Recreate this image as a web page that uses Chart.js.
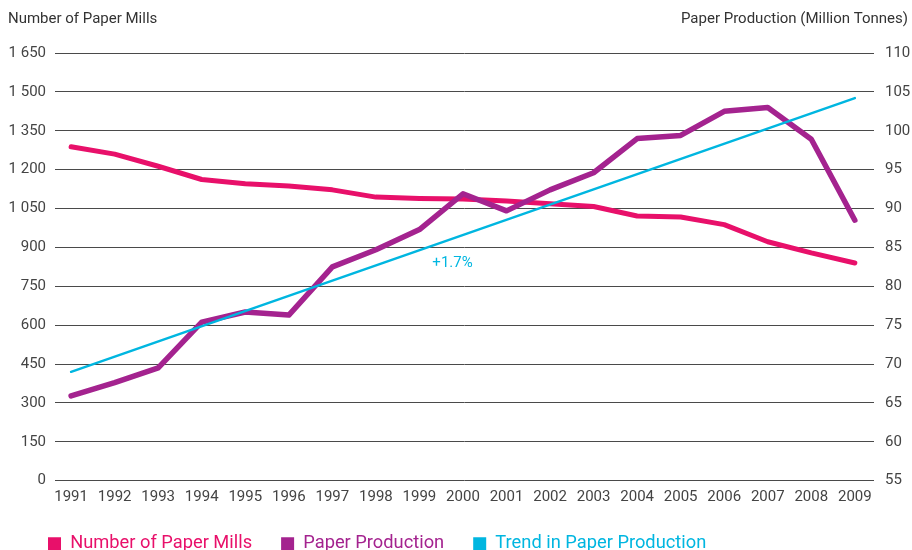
<!DOCTYPE html>
<html>
<head>
<meta charset="utf-8">
<script src="https://cdn.jsdelivr.net/npm/chart.js@4/dist/chart.umd.min.js"></script>
<style>
  html, body { margin: 0; padding: 0; background: #fff; overflow: hidden; }
  #wrap { width: 912px; height: 563px; }
</style>
</head>
<body>
<div id="wrap"><canvas id="c" width="912" height="563"></canvas></div>
<script>
const years = [1991, 1992, 1993, 1994, 1995, 1996, 1997, 1998, 1999, 2000,
               2001, 2002, 2003, 2004, 2005, 2006, 2007, 2008, 2009];
const paperMills = [1288, 1260, 1213, 1162, 1146, 1137, 1122, 1094, 1089, 1087,
                    1079, 1068, 1058, 1021, 1017, 988, 922, 879, 840];
const paperProduction = [65.9, 67.6, 69.5, 75.4, 76.7, 76.3, 82.5, 84.7, 87.3, 91.9,
                         89.7, 92.4, 94.6, 99.0, 99.4, 102.5, 103.0, 98.9, 88.5];
const trendProduction = [69.0, null, null, null, null, null, null, null, null, null,
                         null, null, null, null, null, null, null, null, 104.2];
const millsTicks = [0, 150, 300, 450, 600, 750, 900, 1050, 1200, 1350, 1500, 1650];
const productionTicks = [55, 60, 65, 70, 75, 80, 85, 90, 95, 100, 105, 110];
const trendLabel = { text: '+1.7%', year: 1999.76, value: 82.9 };
const leftTitle = 'Number of Paper Mills';
const rightTitle = 'Paper Production (Million Tonnes)';

const PINK = '#E8106A', PURPLE = '#A4238F', CYAN = '#00B6E0';

const toXY = arr => years.map((y, i) => ({ x: y, y: arr[i] }));
const fmtThousands = v => v >= 1000 ? Math.floor(v / 1000) + ' ' + String(v % 1000).padStart(3, '0') : String(v);

const extras = {
  id: 'extras',
  afterLayout(chart) {
    chart.legend.left = 19;
  },
  afterDraw(chart) {
    const ctx = chart.ctx;
    ctx.save();
    ctx.font = '15px Roboto, "Noto Sans", sans-serif';
    ctx.fillStyle = '#333';
    ctx.textBaseline = 'alphabetic';
    ctx.textAlign = 'left';
    ctx.fillText(leftTitle, 8, 23);
    ctx.textAlign = 'right';
    ctx.fillText(rightTitle, 908, 23);
    const xs = chart.scales.x, yr = chart.scales.y1;
    ctx.fillStyle = CYAN;
    ctx.textAlign = 'center';
    ctx.textBaseline = 'middle';
    ctx.fillText(trendLabel.text, xs.getPixelForValue(trendLabel.year), yr.getPixelForValue(trendLabel.value));
    ctx.restore();
  }
};

new Chart(document.getElementById('c'), {
  type: 'line',
  data: {
    datasets: [
      { label: 'Number of Paper Mills', data: toXY(paperMills), yAxisID: 'y',
        borderColor: PINK, backgroundColor: PINK, borderWidth: 5, order: 3 },
      { label: 'Paper Production', data: toXY(paperProduction), yAxisID: 'y1',
        borderColor: PURPLE, backgroundColor: PURPLE, borderWidth: 5.5, order: 2 },
      { label: 'Trend in Paper Production', data: toXY(trendProduction), yAxisID: 'y1',
        borderColor: CYAN, backgroundColor: CYAN, borderWidth: 2.5, spanGaps: true, order: 1 }
    ]
  },
  options: {
    responsive: false,
    animation: false,
    devicePixelRatio: 1,
    layout: { padding: { top: 53, left: 0, right: 0, bottom: 0 } },
    elements: {
      point: { radius: 0, hoverRadius: 0 },
      line: { tension: 0, fill: false, borderCapStyle: 'round', borderJoinStyle: 'round' }
    },
    plugins: {
      tooltip: { enabled: false },
      legend: {
        position: 'bottom',
        align: 'start',
        labels: {
          boxWidth: 13,
          boxHeight: 13,
          padding: 29,
          font: { family: 'Roboto, "Noto Sans", sans-serif', size: 18.3 },
          sort: (a, b) => a.datasetIndex - b.datasetIndex,
          generateLabels(chart) {
            const items = Chart.defaults.plugins.legend.labels.generateLabels(chart);
            items.forEach(it => {
              const ds = chart.data.datasets[it.datasetIndex];
              it.fillStyle = ds.borderColor;
              it.strokeStyle = ds.borderColor;
              it.fontColor = ds.borderColor;
              it.lineWidth = 0;
            });
            return items;
          }
        }
      }
    },
    scales: {
      x: {
        type: 'linear',
        min: 1990.63,
        max: 2009.44,
        afterBuildTicks: s => { s.ticks = years.map(v => ({ value: v })); },
        afterFit: s => { s.height = 25; },
        grid: { display: false, drawTicks: false },
        border: { display: false },
        ticks: {
          autoSkip: false, maxRotation: 0, padding: 8,
          color: '#444',
          font: { family: '"Liberation Sans Narrow", Roboto, sans-serif', size: 15 },
          callback: v => String(v)
        }
      },
      y: {
        position: 'left',
        min: 0, max: 1650,
        afterBuildTicks: s => { s.ticks = millsTicks.map(v => ({ value: v })); },
        afterFit: s => { s.width = 55; },
        grid: { color: '#4a4a4a', lineWidth: 1, drawTicks: false },
        border: { display: false },
        ticks: {
          padding: 9, color: '#444',
          font: { family: 'Roboto, "Noto Sans", sans-serif', size: 15 },
          callback: v => fmtThousands(v)
        }
      },
      y1: {
        position: 'right',
        min: 55, max: 110,
        afterBuildTicks: s => { s.ticks = productionTicks.map(v => ({ value: v })); },
        afterFit: s => { s.width = 38; },
        grid: { display: false, drawTicks: false },
        border: { display: false },
        ticks: {
          padding: 11, color: '#444',
          font: { family: 'Roboto, "Noto Sans", sans-serif', size: 15 },
          callback: v => String(v)
        }
      }
    }
  },
  plugins: [extras]
});
</script>
</body>
</html>
